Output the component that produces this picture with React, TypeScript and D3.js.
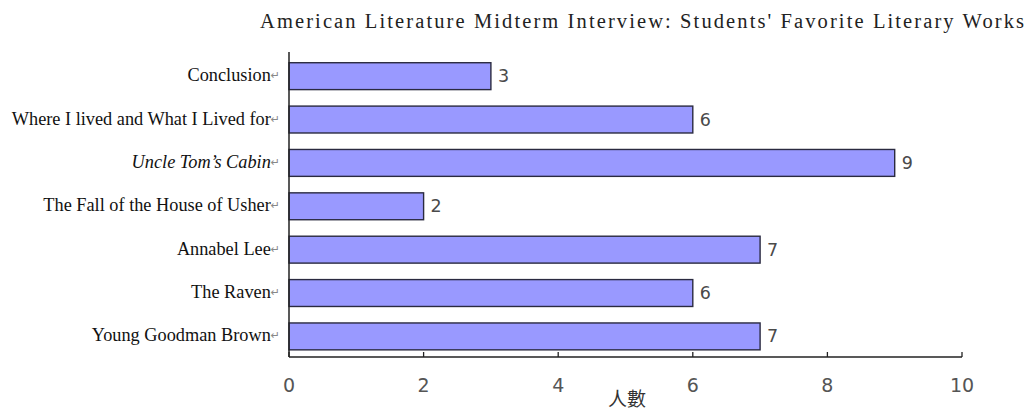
import React from 'react';
import * as d3 from 'd3';

const categories: string[] = [
  'Conclusion',
  'Where I lived and What I Lived for',
  'Uncle Tom\u2019s Cabin',
  'The Fall of the House of Usher',
  'Annabel Lee',
  'The Raven',
  'Young Goodman Brown',
];
const values: number[] = [3, 6, 9, 2, 7, 6, 7];
const italicCategories: string[] = ['Uncle Tom\u2019s Cabin'];
const xTicks: number[] = [0, 2, 4, 6, 8, 10];
const chartTitle = "American Literature Midterm Interview: Students' Favorite Literary Works";
const xAxisTitle = '人數';

const W = 1028;
const H = 414;
const plotLeft = 289;
const plotRight = 962;
const plotTop = 52;
const plotBottom = 357;

export default function App() {
  const x = d3.scaleLinear().domain([0, 10]).range([plotLeft, plotRight]);
  const y = d3
    .scaleBand<string>()
    .domain(categories)
    .range([plotTop, plotBottom])
    .paddingInner(0.38)
    .paddingOuter(0.206)
    .align(0.6);
  const bw = y.bandwidth();
  const serif = '"Liberation Serif", "Times New Roman", serif';
  const sans = '"DejaVu Sans", Verdana, sans-serif';

  return (
    <svg
      width={W}
      height={H}
      viewBox={`0 0 ${W} ${H}`}
      style={{ position: 'absolute', left: 0, top: 0, background: '#fff' }}
    >
      <rect x={0} y={0} width={W} height={H} fill="#ffffff" />
      <text
        x={260}
        y={28}
        fontFamily={serif}
        fontSize={20.5}
        fill="#222"
        textLength={764}
        lengthAdjust="spacing"
      >
        {chartTitle}
      </text>

      {categories.map((c, i) => {
        const yc = (y(c) as number) + bw / 2;
        return (
          <g key={c}>
            <rect
              x={x(0)}
              y={y(c)}
              width={x(values[i]) - x(0)}
              height={bw}
              fill="#9999FF"
              stroke="#2a2a40"
              strokeWidth={1.4}
            />
            <text
              x={x(values[i]) + 7}
              y={yc}
              dominantBaseline="central"
              fontFamily={sans}
              fontSize={17.5}
              fill="#4a4a4a"
            >
              {values[i]}
            </text>
            <text
              x={280}
              y={yc - 1}
              textAnchor="end"
              dominantBaseline="central"
              fontFamily={serif}
              fontSize={18.3}
              fill="#111"
              fontStyle={italicCategories.includes(c) ? 'italic' : 'normal'}
            >
              {c}
              <tspan fontSize={11} fill="#888" fontStyle="normal" fontFamily={sans}>
                {'\u21B5'}
              </tspan>
            </text>
          </g>
        );
      })}

      <line x1={plotLeft} x2={plotLeft} y1={plotTop} y2={plotBottom} stroke="#222" strokeWidth={1.5} />
      <line x1={plotLeft} x2={plotRight} y1={plotBottom} y2={plotBottom} stroke="#222" strokeWidth={1.5} />
      {xTicks.map((t) => (
        <g key={t}>
          <line x1={x(t)} x2={x(t)} y1={plotBottom} y2={plotBottom - 5} stroke="#222" strokeWidth={1.3} />
          <text
            x={x(t)}
            y={385}
            textAnchor="middle"
            dominantBaseline="central"
            fontFamily={sans}
            fontSize={19}
            fill="#555"
          >
            {t}
          </text>
        </g>
      ))}
      <text
        x={627}
        y={406}
        textAnchor="middle"
        fontFamily='"Noto Sans CJK TC", "Noto Sans CJK SC", sans-serif'
        fontSize={19}
        fill="#333"
      >
        {xAxisTitle}
      </text>
    </svg>
  );
}
